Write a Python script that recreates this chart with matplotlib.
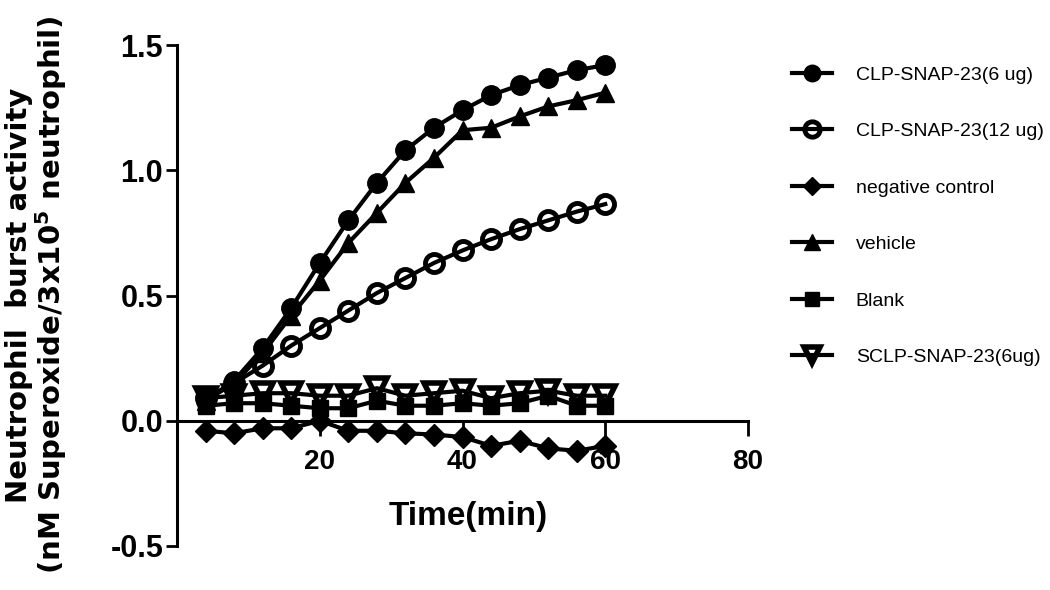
import matplotlib
matplotlib.use("Agg")
import matplotlib.pyplot as plt

time_min = [4, 8, 12, 16, 20, 24, 28, 32, 36, 40, 44, 48, 52, 56, 60]

clp_6ug = [0.08, 0.16, 0.29, 0.45, 0.63, 0.80, 0.95, 1.08, 1.17, 1.24, 1.30, 1.34, 1.37, 1.40, 1.42]
clp_12ug = [0.09, 0.15, 0.22, 0.30, 0.37, 0.44, 0.51, 0.57, 0.63, 0.68, 0.725, 0.765, 0.80, 0.835, 0.865]
negative_control = [-0.04, -0.05, -0.03, -0.03, 0.0, -0.04, -0.04, -0.05, -0.055, -0.065, -0.10, -0.08, -0.11, -0.12, -0.10]
vehicle = [0.08, 0.15, 0.27, 0.42, 0.56, 0.71, 0.83, 0.95, 1.05, 1.16, 1.17, 1.215, 1.255, 1.28, 1.31]
blank = [0.06, 0.07, 0.07, 0.06, 0.05, 0.05, 0.08, 0.06, 0.06, 0.07, 0.06, 0.07, 0.10, 0.06, 0.06]
sclp_6ug = [0.09, 0.10, 0.11, 0.11, 0.10, 0.10, 0.13, 0.10, 0.11, 0.12, 0.09, 0.11, 0.12, 0.10, 0.10]

labels = ["CLP-SNAP-23(6 ug)", "CLP-SNAP-23(12 ug)", "negative control",
          "vehicle", "Blank", "SCLP-SNAP-23(6ug)"]
yticks = [-0.5, 0.0, 0.5, 1.0, 1.5]
xticks = [20, 40, 60, 80]

font = "Liberation Sans"

fig = plt.figure(figsize=(10.5, 5.9), dpi=100)
ax = fig.add_axes([0.1686, 0.0746, 0.5438, 0.849])

series = [clp_6ug, clp_12ug, negative_control, vehicle, blank, sclp_6ug]
styles = [
    dict(marker="o", markersize=14, markerfacecolor="black"),
    dict(marker="o", markersize=13, markerfacecolor="none", markeredgewidth=3.5),
    dict(marker="D", markersize=11, markerfacecolor="black"),
    dict(marker="^", markersize=13, markerfacecolor="black"),
    dict(marker="s", markersize=12, markerfacecolor="black"),
    dict(marker="v", markersize=14, markerfacecolor="none", markeredgewidth=4),
]
for vals, lab, st in zip(series, labels, styles):
    ax.plot(time_min, vals, color="black", linewidth=3, markeredgecolor="black",
            label=lab, **st)

ax.set_xlim(0, 80)
ax.set_ylim(-0.5, 1.5)
ax.spines["top"].set_visible(False)
ax.spines["right"].set_visible(False)
ax.spines["bottom"].set_position(("data", 0))
ax.spines["left"].set_linewidth(2.2)
ax.spines["bottom"].set_linewidth(2.2)
ax.set_xticks(xticks)
ax.set_yticks(yticks)
ax.set_yticklabels([f"{v:.1f}" for v in yticks])
ax.tick_params(axis="y", direction="out", length=8, width=2, pad=2)
ax.tick_params(axis="x", direction="out", length=11, width=2, pad=9)
for t in ax.get_yticklabels():
    t.set_fontfamily(font); t.set_fontweight("bold"); t.set_fontsize(22)
for t in ax.get_xticklabels():
    t.set_fontfamily(font); t.set_fontweight("bold"); t.set_fontsize(20)

fig.text(0.4457, 0.125, "Time(min)", ha="center", va="center",
         fontfamily=font, fontweight="bold", fontsize=24)
fig.text(0.035, 0.5, "Neutrophil  burst activity\n(nM Superoxide/3x10$^{\\mathbf{5}}$ neutrophil)",
         rotation=90, ha="center", va="center", fontfamily="DejaVu Sans",
         fontweight="bold", fontsize=21, linespacing=1.0)

leg = ax.legend(loc="upper left", bbox_to_anchor=(0.741, 0.911), bbox_transform=fig.transFigure,
                frameon=False, handlelength=2.1, handletextpad=1.2, labelspacing=2.0,
                borderpad=0.2, prop=dict(family=font, size=14), markerscale=0.85)

fig.savefig("out.png", dpi=100)
